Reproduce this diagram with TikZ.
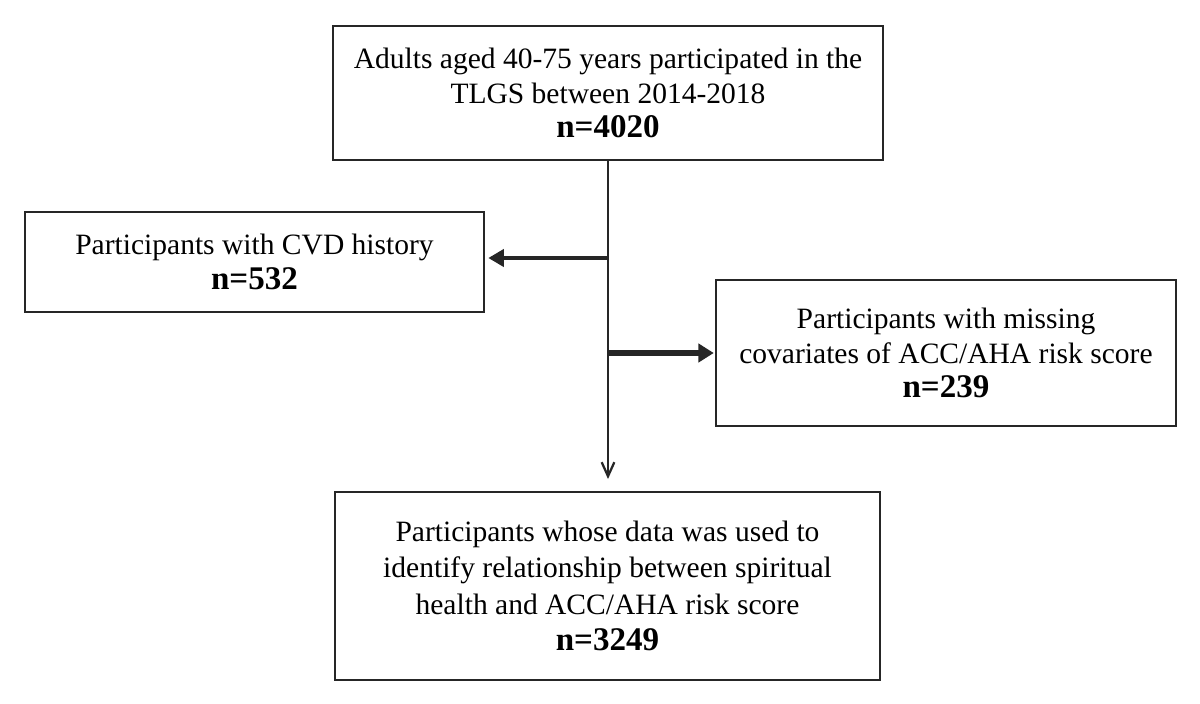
\documentclass[tikz,border=0pt]{standalone}
\usepackage{fontspec}
\setmainfont{Liberation Serif}
\usetikzlibrary{arrows.meta}

\newcommand{\countline}[1]{\textbf{\fontsize{23.5}{25}\selectfont #1}}

\tikzset{
  stage/.style={draw=black!85, line width=1.1pt, align=center, inner sep=0pt,
    font=\fontsize{21}{24.5}\selectfont},
  flow/.style={draw=black!85, line width=2.8pt, -{Triangle[length=11pt,width=12pt]}},
  mainflow/.style={draw=black!85, line width=2pt, -{Straight Barb[length=10pt,width=9pt,line width=1.6pt]}}
}

\begin{document}
\begin{tikzpicture}[x=0.025cm, y=-0.025cm]
        \useasboundingbox (0,0) rectangle (1200,703);
          \node [stage, minimum width=13.75cm, minimum height=3.35cm] (adults) at (608,93)
            {Adults aged 40-75 years participated in the\\TLGS between 2014-2018\\\countline{n=4020}};
          \node [stage, line width=2pt, minimum width=11.475cm, minimum height=2.5cm] (cvd) at (254.5,262)
            {Participants with CVD history\\\countline{n=532}};
          \node [stage, minimum width=11.5cm, minimum height=3.65cm] (missing) at (946,353)
            {Participants with missing\\covariates of ACC/AHA risk score\\\countline{n=239}};
          \node [stage, font=\fontsize{21}{26}\selectfont, minimum width=13.625cm, minimum height=4.7cm] (final) at (607.5,586)
            {Participants whose data was used to\\identify relationship between spiritual\\health and ACC/AHA risk score\\\countline{n=3249}};
          \coordinate (split1) at (608,258);
          \coordinate (split2) at (608,353);
          \coordinate (vend) at (608,479);
          \draw [mainflow] (adults.south) -- (vend);
          \draw [flow] (split1) -- ([xshift=2pt]cvd.east |- split1);
          \draw [flow, line width=4.2pt, -{Triangle[length=11pt,width=13pt]}] (split2) -- ([xshift=-1pt]missing.west);
\end{tikzpicture}
\end{document}
